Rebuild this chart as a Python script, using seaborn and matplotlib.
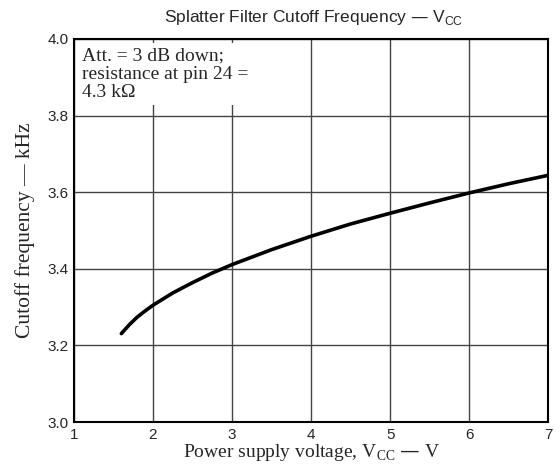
import matplotlib
matplotlib.use('Agg')
import matplotlib.pyplot as plt
import pandas as pd
import seaborn as sns

# supply voltage (V) vs cutoff frequency (kHz)
vcc = [1.6, 1.7, 1.8, 1.9, 2.0, 2.25, 2.5, 2.75, 3.0, 3.5, 4.0, 4.5, 5.0, 5.5, 6.0, 6.5, 7.0]
freq = [3.231, 3.254, 3.274, 3.290, 3.305, 3.337, 3.364, 3.389, 3.411, 3.450, 3.485,
        3.517, 3.545, 3.572, 3.598, 3.622, 3.644]

xticks = [1, 2, 3, 4, 5, 6, 7]
yticks = [3.0, 3.2, 3.4, 3.6, 3.8, 4.0]

df = pd.DataFrame({'vcc': vcc, 'freq': freq})

sns.set_style('white')
sans = ['Liberation Sans', 'DejaVu Sans']
serif = ['Liberation Serif', 'DejaVu Serif']

fig = plt.figure(figsize=(5.6, 4.68), dpi=100)
ax = fig.add_axes([0.132, 0.098, 0.847, 0.819])

sns.lineplot(data=df, x='vcc', y='freq', color='black', linewidth=2.6, ax=ax, zorder=3)

ax.set_xlim(1, 7)
ax.set_ylim(3.0, 4.0)
ax.set_xticks(xticks)
ax.set_yticks(yticks)
ax.set_xticklabels([str(t) for t in xticks], family=sans, fontsize=11)
ax.set_yticklabels([f'{t:.1f}' for t in yticks], family=sans, fontsize=11)
ax.tick_params(axis='both', direction='out', length=3, width=1, pad=1, color='black')
ax.grid(True, color='#444444', linewidth=1.0)
for s in ax.spines.values():
    s.set_color('black')
    s.set_linewidth(1.5)

ax.set_xlabel(r'Power supply voltage, V$_{\mathregular{CC}}$ — V', family=serif, fontsize=14, labelpad=0)
ax.set_ylabel('Cutoff frequency — kHz', family=serif, fontsize=15.5, labelpad=9)
fig.text(0.56, 0.963, r'Splatter Filter Cutoff Frequency — V$_{\mathregular{CC}}$',
         family=sans, fontsize=12.5, ha='center', va='center')

ax.text(1.1, 3.978, 'Att. = 3 dB down;\nresistance at pin 24 =\n4.3 kΩ', family=serif, fontsize=14,
        ha='left', va='top', linespacing=1.1, zorder=4,
        bbox=dict(facecolor='white', edgecolor='none', pad=3))

fig.savefig('out.png', dpi=100)
